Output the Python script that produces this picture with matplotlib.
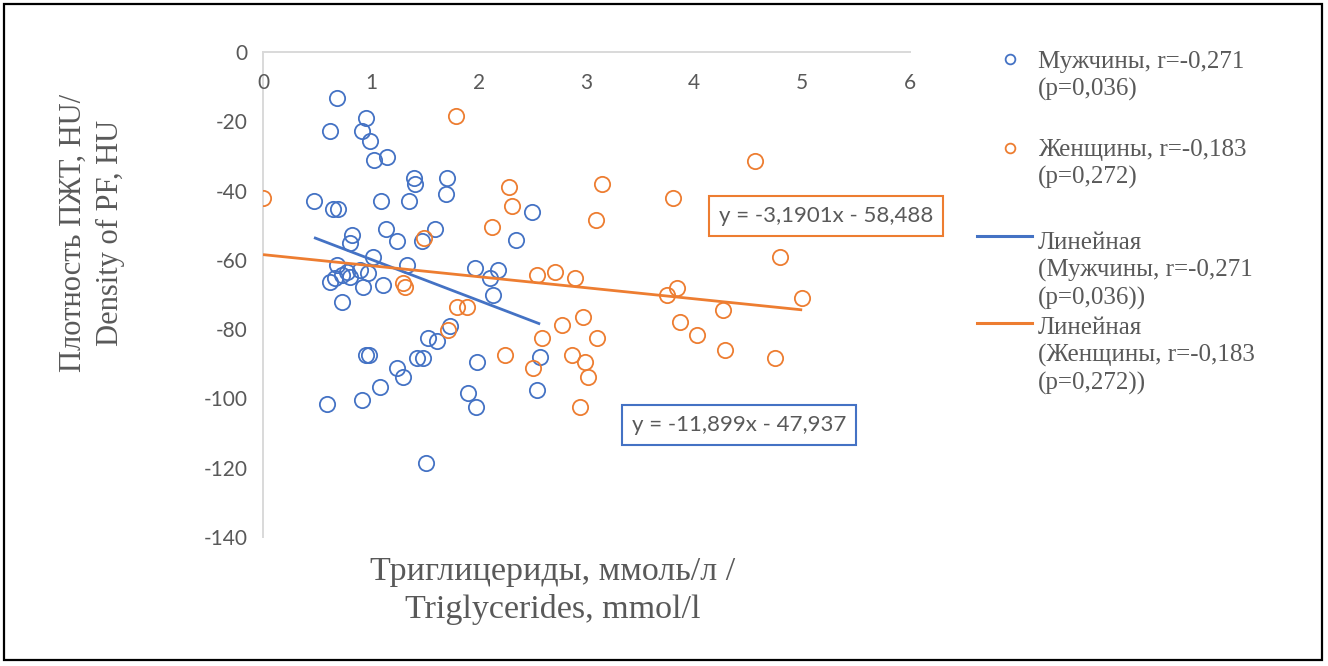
import matplotlib
matplotlib.use("Agg")
import matplotlib.pyplot as plt
from matplotlib.lines import Line2D
from matplotlib.patches import Rectangle
import numpy as np

plt.rcParams['axes.unicode_minus'] = False

# ---------------- data ----------------
men_x = [0.686, 0.621, 0.955, 0.918, 0.993, 1.030, 1.150, 1.401, 1.410, 1.707,
         1.698, 0.473, 0.649, 0.696, 1.095, 1.354, 2.495, 0.826, 0.807, 1.141,
         1.243, 1.596, 1.475, 2.347, 1.020, 0.686, 0.779, 0.621, 0.668, 0.733,
         0.807, 0.900, 0.974, 0.928, 1.113, 1.336, 0.733, 1.967, 2.180, 2.106,
         2.134, 1.735, 1.531, 1.614, 0.955, 0.983, 1.429, 1.484, 1.985, 2.570,
         1.243, 1.299, 1.085, 0.918, 0.594, 1.902, 1.976, 2.542, 1.512]
men_y = [-13.3, -22.8, -19.0, -22.8, -25.7, -31.2, -30.3, -36.4, -38.1, -36.4,
         -41.0, -43.0, -45.3, -45.3, -43.0, -43.0, -46.2, -52.8, -55.1, -51.1,
         -54.5, -51.1, -54.5, -54.3, -59.2, -61.5, -63.5, -66.4, -65.2, -64.4,
         -64.9, -62.9, -63.8, -67.8, -67.2, -61.5, -72.2, -62.3, -62.9, -65.2,
         -70.1, -79.1, -82.5, -83.4, -87.4, -87.4, -88.3, -88.3, -89.5, -88.0,
         -91.2, -93.8, -96.7, -100.4, -101.6, -98.4, -102.5, -97.5, -118.6]

women_x = [0.0, 1.790, 2.282, 2.310, 2.124, 1.494, 3.145, 3.089, 3.803, 4.564,
           4.796, 2.542, 2.709, 2.894, 3.748, 3.840, 5.000, 4.267, 1.299, 1.317,
           1.800, 1.892, 1.716, 2.588, 2.774, 2.968, 3.098, 2.245, 2.866, 2.987,
           2.505, 3.015, 2.941, 3.868, 4.026, 4.286, 4.750]
women_y = [-42.1, -18.5, -39.0, -44.4, -50.5, -53.7, -38.1, -48.5, -42.1, -31.5,
           -59.2, -64.4, -63.5, -65.2, -70.1, -68.1, -71.0, -74.5, -66.7, -67.8,
           -73.6, -73.6, -80.2, -82.5, -78.8, -76.5, -82.5, -87.4, -87.4, -89.5,
           -91.2, -93.8, -102.5, -77.9, -81.7, -86.0, -88.3]

men_slope, men_intercept = -11.899, -47.937
women_slope, women_intercept = -3.1901, -58.488

x_ticks = [0, 1, 2, 3, 4, 5, 6]
y_ticks = [-140, -120, -100, -80, -60, -40, -20, 0]

men_label = "Мужчины, r=-0,271\n(p=0,036)"
women_label = "Женщины, r=-0,183\n(p=0,272)"
men_trend_label = "Линейная\n(Мужчины, r=-0,271\n(p=0,036))"
women_trend_label = "Линейная\n(Женщины, r=-0,183\n(p=0,272))"
men_eq = "y = -11,899x - 47,937"
women_eq = "y = -3,1901x - 58,488"
xlabel = "Триглицериды, ммоль/л /\nTriglycerides, mmol/l"
ylabel = "Плотность ПЖТ, HU/\nDensity of PF, HU"

# ---------------- style ----------------
BLUE = '#4472C4'
ORANGE = '#ED7D31'
GRAY = '#595959'
AXGRAY = '#D9D9D9'
W, H = 1328, 666

def fx(px):
    return px / W

def fy(py):
    return 1 - py / H

fig = plt.figure(figsize=(W / 100, H / 100), dpi=100)
fig.patch.set_facecolor('white')
ax = fig.add_axes([fx(263), fy(537), fx(910) - fx(263), fy(52) - fy(537)])

ax.set_xlim(0, 6)
ax.set_ylim(-140, 0)

ms = 11
ax.plot(men_x, men_y, linestyle='none', marker='o', markersize=ms,
        markerfacecolor='none', markeredgecolor=BLUE, markeredgewidth=1.3, zorder=3)
ax.plot(women_x, women_y, linestyle='none', marker='o', markersize=ms,
        markerfacecolor='none', markeredgecolor=ORANGE, markeredgewidth=1.3, zorder=3)

mx = np.array([min(men_x), max(men_x)])
wx = np.array([min(women_x), max(women_x)])
ax.plot(mx, men_slope * mx + men_intercept, color=BLUE, lw=2.0, zorder=4,
        solid_capstyle='butt')
ax.plot(wx, women_slope * wx + women_intercept, color=ORANGE, lw=2.0, zorder=4,
        solid_capstyle='butt')

for s in ['top', 'right']:
    ax.spines[s].set_visible(False)
ax.spines['bottom'].set_position(('data', 0))
ax.spines['bottom'].set_color(AXGRAY)
ax.spines['left'].set_color(AXGRAY)
ax.spines['bottom'].set_linewidth(1.4)
ax.spines['left'].set_linewidth(1.4)
ax.spines['bottom'].set_zorder(1)
ax.spines['left'].set_zorder(1)

ax.set_xticks(x_ticks)
ax.set_yticks(y_ticks)
ax.set_xticklabels([str(v) for v in x_ticks])
ax.set_yticklabels([str(v) for v in y_ticks])
ax.tick_params(axis='x', length=0, pad=15, labelsize=15, labelcolor=GRAY)
ax.tick_params(axis='y', length=0, pad=11, labelsize=15, labelcolor=GRAY)
for lab in ax.get_xticklabels() + ax.get_yticklabels():
    lab.set_fontfamily('Lato')

# axis titles
fig.text(fx(553), fy(591), xlabel, ha='center', va='center', multialignment='center',
         fontsize=24.5, family='Liberation Serif', color=GRAY, linespacing=1.3)
fig.text(fx(92), fy(233), ylabel, ha='center', va='center', multialignment='center',
         rotation=90, fontsize=22, family='Liberation Serif', color=GRAY, linespacing=1.35)

# equation boxes
fig.text(fx(826), fy(216), women_eq, ha='center', va='center', fontsize=16,
         family='Lato', color=GRAY,
         bbox=dict(boxstyle='square,pad=0.45', fc='white', ec=ORANGE, lw=1.5))
fig.text(fx(739), fy(425), men_eq, ha='center', va='center', fontsize=16,
         family='Lato', color=GRAY,
         bbox=dict(boxstyle='square,pad=0.45', fc='white', ec=BLUE, lw=1.5))

# legend (drawn manually to follow the reference spacing)
lfs = 18
lx = 1038
lsp = 1.3
fig.add_artist(Line2D([fx(1010)], [fy(59)], marker='o', markersize=7, mfc='none',
                      mec=BLUE, mew=1.3, transform=fig.transFigure))
fig.text(fx(lx), fy(76), men_label, ha='left', va='center', fontsize=lfs,
         family='Liberation Serif', color=GRAY, linespacing=lsp)
fig.add_artist(Line2D([fx(1010)], [fy(148)], marker='o', markersize=7, mfc='none',
                      mec=ORANGE, mew=1.3, transform=fig.transFigure))
fig.text(fx(lx), fy(164), women_label, ha='left', va='center', fontsize=lfs,
         family='Liberation Serif', color=GRAY, linespacing=lsp)
fig.add_artist(Line2D([fx(977), fx(1032)], [fy(236), fy(236)], color=BLUE, lw=2.2,
                      transform=fig.transFigure))
fig.text(fx(lx), fy(271), men_trend_label, ha='left', va='center', fontsize=lfs,
         family='Liberation Serif', color=GRAY, linespacing=lsp)
fig.add_artist(Line2D([fx(977), fx(1032)], [fy(323), fy(323)], color=ORANGE, lw=2.2,
                      transform=fig.transFigure))
fig.text(fx(lx), fy(356), women_trend_label, ha='left', va='center', fontsize=lfs,
         family='Liberation Serif', color=GRAY, linespacing=lsp)

# outer frame
fig.add_artist(Rectangle((fx(4), fy(660)), fx(1322) - fx(4), fy(4) - fy(660),
                         fill=False, ec='black', lw=1.6, transform=fig.transFigure))

fig.savefig('out.png', dpi=100, facecolor='white')
